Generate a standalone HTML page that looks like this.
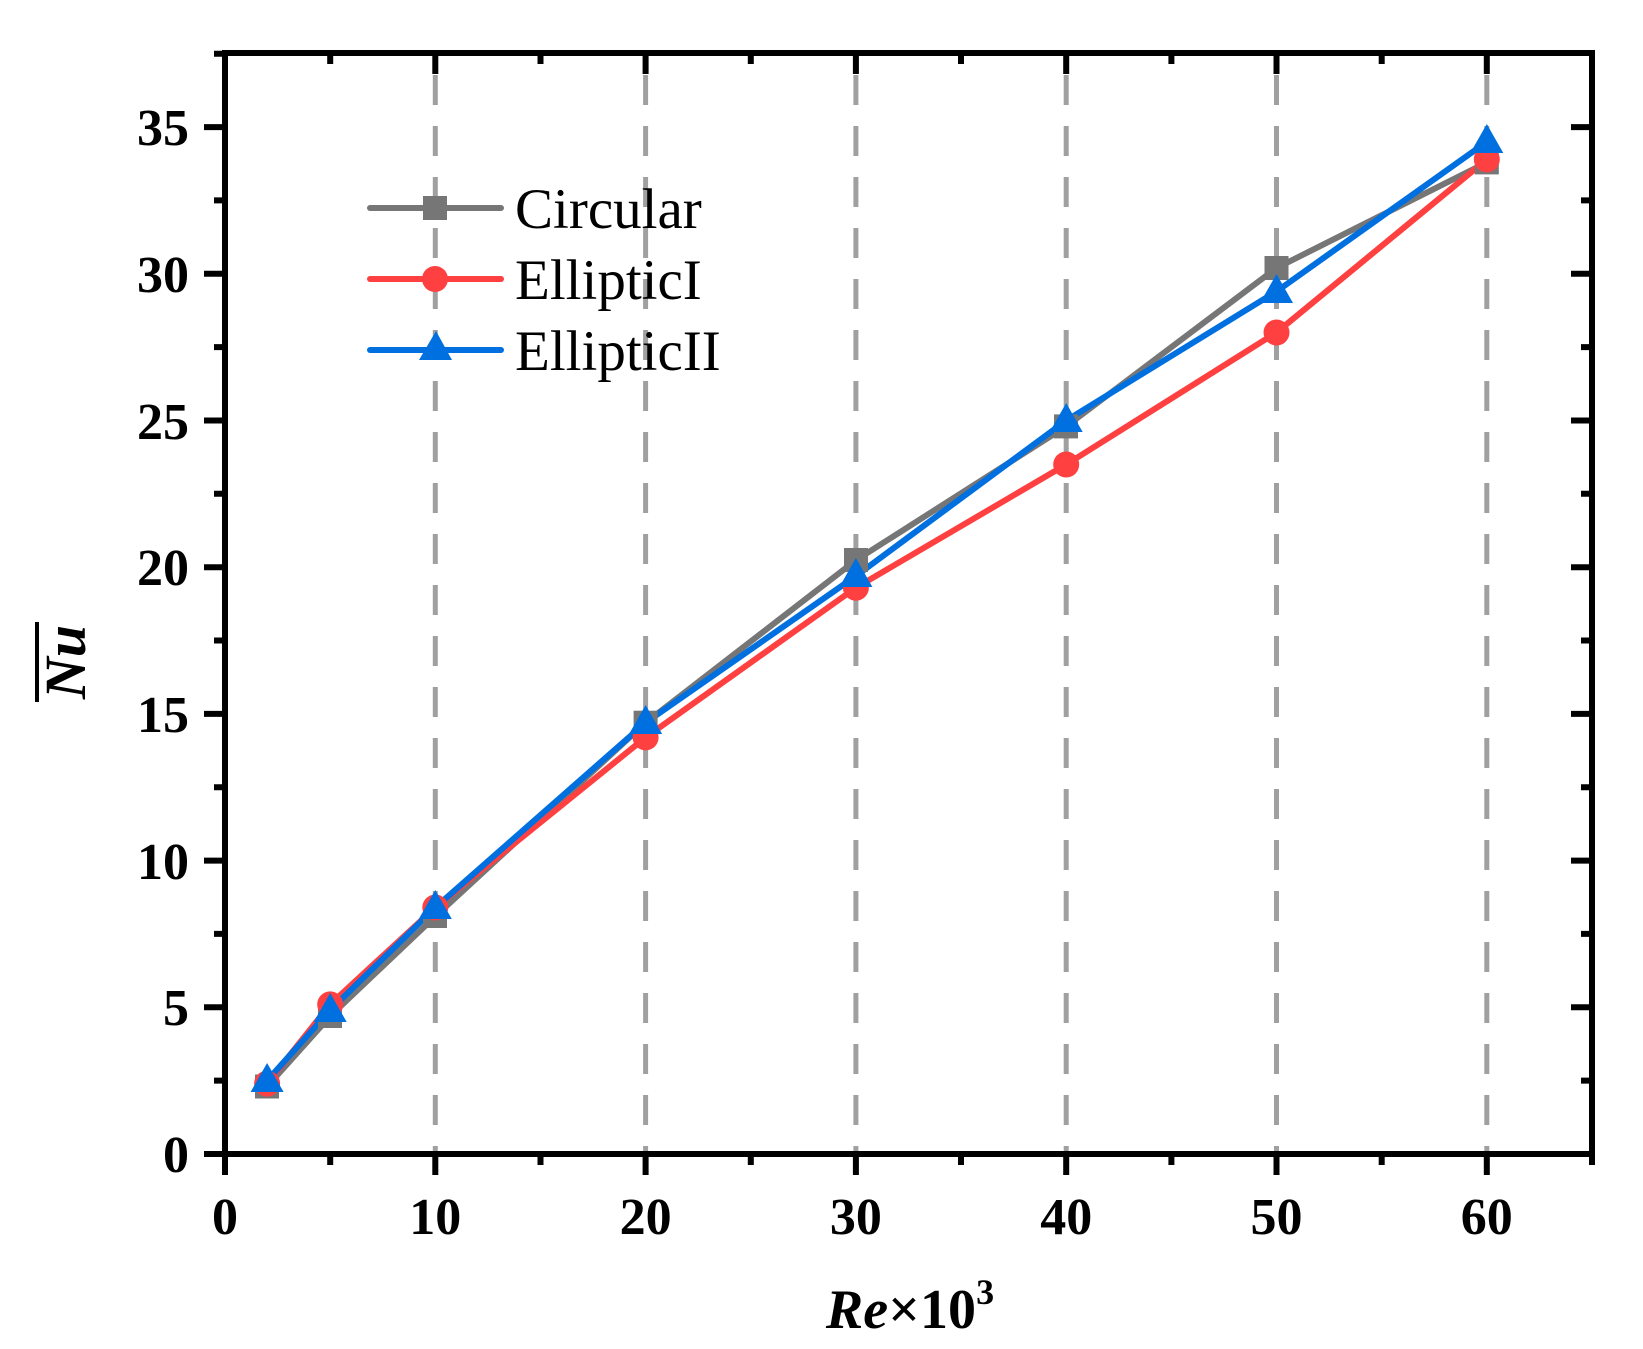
<!DOCTYPE html>
<html><head><meta charset="utf-8"><style>html,body{margin:0;padding:0;background:#fff}svg{display:block}</style></head>
<body>
<svg width="1643" height="1349" viewBox="0 0 1643 1349" xmlns="http://www.w3.org/2000/svg" font-family="'Liberation Serif', serif">
<rect width="1643" height="1349" fill="#fff"/>
<g stroke="#a0a0a0" stroke-width="5" stroke-dasharray="30,21">
<line x1="435.3" y1="75" x2="435.3" y2="1152"/>
<line x1="645.6" y1="75" x2="645.6" y2="1152"/>
<line x1="855.9" y1="75" x2="855.9" y2="1152"/>
<line x1="1066.2" y1="75" x2="1066.2" y2="1152"/>
<line x1="1276.5" y1="75" x2="1276.5" y2="1152"/>
<line x1="1486.8" y1="75" x2="1486.8" y2="1152"/>
</g>
<g fill="none" stroke-width="6" stroke-linejoin="round">
<polyline stroke="#767676" points="267.1,1086.5 330.2,1016.1 435.3,916.3 645.6,722.7 855.9,560.2 1066.2,426.4 1276.5,268 1486.8,162.4"/>
<polyline stroke="#ff4040" points="267.1,1083.6 330.2,1004.4 435.3,907.5 645.6,737.4 855.9,587.7 1066.2,464.5 1276.5,332.5 1486.8,159.4"/>
<polyline stroke="#0070e0" points="267.1,1080.6 330.2,1010.2 435.3,907.5 645.6,722.7 855.9,576 1066.2,420.5 1276.5,291.4 1486.8,141.8"/>
</g>
<g fill="#767676">
<rect x="255" y="1074.5" width="24" height="24"/><rect x="318" y="1004" width="24" height="24"/><rect x="423" y="904" width="24" height="24"/><rect x="633.6" y="710.7" width="24" height="24"/><rect x="844" y="548" width="24" height="24"/><rect x="1054" y="414.4" width="24" height="24"/><rect x="1264.5" y="256" width="24" height="24"/><rect x="1474.8" y="150.4" width="24" height="24"/>
</g>
<g fill="#ff4040">
<circle cx="267.1" cy="1083.6" r="13"/><circle cx="330.2" cy="1004.4" r="13"/><circle cx="435.3" cy="907.5" r="13"/><circle cx="645.6" cy="737.4" r="13"/><circle cx="855.9" cy="587.7" r="13"/><circle cx="1066.2" cy="464.5" r="13"/><circle cx="1276.5" cy="332.5" r="13"/><circle cx="1486.8" cy="159.4" r="13"/>
</g>
<g fill="#0070e0">
<polygon points="267.1,1063 250.6,1092 283.6,1092"/><polygon points="330.2,993 313.7,1022 346.7,1022"/><polygon points="435.3,890 418.8,919 451.8,919"/><polygon points="645.6,705 629.1,734 662.1,734"/><polygon points="855.9,558 839.4,587 872.4,587"/><polygon points="1066.2,403 1049.7,432 1082.7,432"/><polygon points="1276.5,274 1260,303 1293,303"/><polygon points="1486.8,124 1470.3,153 1503.3,153"/>
</g>
<rect x="225" y="53" width="1367" height="1101" fill="none" stroke="#000" stroke-width="6"/>
<g stroke="#000" stroke-width="6">
<path d="M225,1154v21M435.3,1154v21M645.6,1154v21M855.9,1154v21M1066.2,1154v21M1276.5,1154v21M1486.8,1154v21
M330.2,1154v11M540.5,1154v11M750.8,1154v11M961,1154v11M1171.4,1154v11M1381.7,1154v11M1592,1154v11"/>
<path d="M435.3,53v21M645.6,53v21M855.9,53v21M1066.2,53v21M1276.5,53v21M1486.8,53v21
M330.2,53v11M540.5,53v11M750.8,53v11M961,53v11M1171.4,53v11M1381.7,53v11"/>
<path d="M225,1154h-21M225,1007.3h-21M225,860.6h-21M225,713.9h-21M225,567.2h-21M225,420.5h-21M225,273.8h-21M225,127.1h-21
M225,1080.6h-11M225,933.9h-11M225,787.2h-11M225,640.5h-11M225,493.8h-11M225,347.1h-11M225,200.4h-11M225,53.7h-11"/>
<path d="M1592,1007.3h-21M1592,860.6h-21M1592,713.9h-21M1592,567.2h-21M1592,420.5h-21M1592,273.8h-21M1592,127.1h-21
M1592,1080.6h-11M1592,933.9h-11M1592,787.2h-11M1592,640.5h-11M1592,493.8h-11M1592,347.1h-11M1592,200.4h-11"/>
</g>
<g font-size="52" font-weight="bold" text-anchor="end">
<text x="189" y="1172">0</text><text x="189" y="1025">5</text><text x="189" y="879">10</text><text x="189" y="732">15</text><text x="189" y="585">20</text><text x="189" y="439">25</text><text x="189" y="292">30</text><text x="189" y="145">35</text>
</g>
<g font-size="52" font-weight="bold" text-anchor="middle">
<text x="225" y="1234">0</text><text x="435.3" y="1234">10</text><text x="645.6" y="1234">20</text><text x="855.9" y="1234">30</text><text x="1066.2" y="1234">40</text><text x="1276.5" y="1234">50</text><text x="1486.8" y="1234">60</text>
</g>
<text x="910" y="1328" font-size="56" font-weight="bold" text-anchor="middle"><tspan font-style="italic">Re</tspan>×10<tspan font-size="36" dy="-24">3</tspan></text>
<g transform="translate(85,662) rotate(-90)">
<text x="0" y="0" font-size="58" font-weight="bold" font-style="italic" text-anchor="middle">Nu</text>
</g>
<line x1="37" y1="622" x2="37" y2="702" stroke="#000" stroke-width="4"/>
<g stroke-width="6" stroke-linecap="round">
<line x1="370" y1="208" x2="501" y2="208" stroke="#767676"/>
<line x1="370" y1="279" x2="501" y2="279" stroke="#ff4040"/>
<line x1="370" y1="350" x2="501" y2="350" stroke="#0070e0"/>
</g>
<rect x="423" y="196" width="24" height="24" fill="#767676"/>
<circle cx="435" cy="279" r="13" fill="#ff4040"/>
<polygon points="436,331 419,360 452,360" fill="#0070e0"/>
<g font-size="57">
<text x="515" y="228">Circular</text>
<text x="515" y="299">EllipticI</text>
<text x="515" y="370">EllipticII</text>
</g>
</svg>
</body></html>
